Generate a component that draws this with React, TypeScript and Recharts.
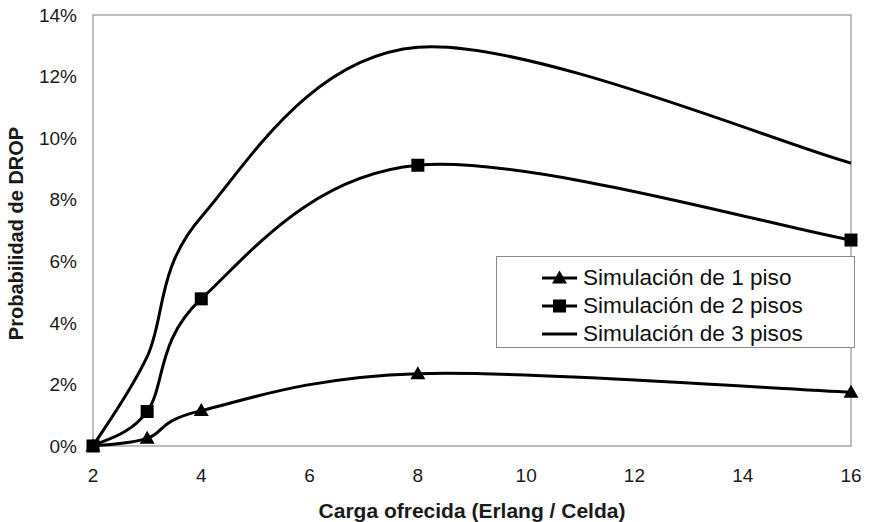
import React from 'react'
import { LineChart, Line, XAxis, YAxis, ReferenceArea, Legend } from 'recharts'

// valores
const carga = [2, 3, 4, 8, 16]
const piso1 = [0, 0.0025, 0.0115, 0.0235, 0.0175]
const piso2 = [0, 0.0112, 0.0478, 0.0912, 0.0669]
const piso3 = [0, 0.029, 0.0744, 0.1295, 0.0919]
const xTicks = [2, 4, 6, 8, 10, 12, 14, 16]
const yTicks = [0, 0.02, 0.04, 0.06, 0.08, 0.1, 0.12, 0.14]

const series = [
  { key: 'p1', name: 'Simulación de 1 piso', marker: 'triangle' },
  { key: 'p2', name: 'Simulación de 2 pisos', marker: 'square' },
  { key: 'p3', name: 'Simulación de 3 pisos', marker: 'none' }
]

const data = carga.map((c, i) => ({ carga: c, p1: piso1[i], p2: piso2[i], p3: piso3[i] }))

const FONT = '"Liberation Sans", Arial, sans-serif'

// curva suavizada tipo Excel (Catmull-Rom)
function excelCurve(context: any) {
  let pts: number[][] = []
  return {
    areaStart() {},
    areaEnd() {},
    lineStart() {
      pts = []
    },
    point(x: number, y: number) {
      pts.push([+x, +y])
    },
    lineEnd() {
      const n = pts.length
      if (!n) return
      context.moveTo(pts[0][0], pts[0][1])
      if (n === 2) {
        context.lineTo(pts[1][0], pts[1][1])
        return
      }
      for (let i = 0; i < n - 1; i++) {
        const p0 = pts[Math.max(i - 1, 0)]
        const p1 = pts[i]
        const p2 = pts[i + 1]
        const p3 = pts[Math.min(i + 2, n - 1)]
        context.bezierCurveTo(
          p1[0] + (p2[0] - p0[0]) / 6,
          p1[1] + (p2[1] - p0[1]) / 6,
          p2[0] - (p3[0] - p1[0]) / 6,
          p2[1] - (p3[1] - p1[1]) / 6,
          p2[0],
          p2[1]
        )
      }
    }
  }
}

function Marker({ cx, cy, type }: { cx: number; cy: number; type: string }) {
  if (type === 'triangle')
    return <path d={`M${cx},${cy - 7.5}L${cx + 7.5},${cy + 5.5}L${cx - 7.5},${cy + 5.5}Z`} fill="#000" />
  if (type === 'square') return <rect x={cx - 6.5} y={cy - 6.5} width={13} height={13} fill="#000" />
  return null
}

function Leyenda({ payload }: any) {
  return (
    <div
      style={{
        border: '1px solid #8c8c8c',
        background: '#fff',
        width: 357,
        height: 83,
        paddingTop: 7,
        fontFamily: FONT,
        fontSize: 22.6,
        color: '#111'
      }}
    >
      {(payload || []).map((entry: any) => {
        const s = series.find(x => x.key === entry.dataKey)
        return (
          <div
            key={entry.value}
            style={{ display: 'flex', alignItems: 'center', height: 28, paddingLeft: 45 }}
          >
            <svg width={36} height={16}>
              <line x1={0} y1={8} x2={35} y2={8} stroke="#000" strokeWidth={3} />
              <Marker cx={17.5} cy={8} type={s ? s.marker : 'none'} />
            </svg>
            <span style={{ marginLeft: 5, lineHeight: '28px' }}>{entry.value}</span>
          </div>
        )
      })}
    </div>
  )
}

export default function App() {
  return (
    <div style={{ position: 'absolute', left: 0, top: 0, background: '#fff' }}>
      <LineChart
        width={869}
        height={522}
        data={data}
        margin={{ top: 15, right: 18, left: 0, bottom: 0 }}
      >
        <ReferenceArea
          x1={2}
          x2={16}
          y1={0}
          y2={0.14}
          fill="none"
          stroke="#a8a8a8"
          strokeWidth={1.5}
          ifOverflow="visible"
        />
        <XAxis
          dataKey="carga"
          type="number"
          domain={[2, 16]}
          ticks={xTicks}
          axisLine={false}
          tickLine={false}
          tickSize={0}
          tickMargin={23}
          height={76}
          tick={{ fill: '#1a1a1a', fontSize: 19, fontFamily: FONT }}
          label={{
            value: 'Carga ofrecida (Erlang / Celda)',
            position: 'insideBottom',
            offset: 4,
            style: { fontFamily: FONT, fontSize: 21, fontWeight: 'bold', fill: '#1a1a1a' }
          }}
        />
        <YAxis
          type="number"
          domain={[0, 0.14]}
          ticks={yTicks}
          axisLine={false}
          tickLine={false}
          tickSize={0}
          tickMargin={16}
          width={93}
          tickFormatter={(v: number) => `${Math.round(v * 100)}%`}
          tick={{ fill: '#1a1a1a', fontSize: 19, fontFamily: FONT }}
          label={{
            value: 'Probabilidad de DROP',
            angle: -90,
            position: 'insideLeft',
            offset: 16,
            dy: 3,
            style: {
              fontFamily: FONT,
              fontSize: 20,
              fontWeight: 'bold',
              fill: '#1a1a1a',
              textAnchor: 'middle'
            }
          }}
        />
        {series.map(s => (
          <Line
            key={s.key}
            dataKey={s.key}
            name={s.name}
            type={excelCurve as any}
            stroke="#000"
            strokeWidth={3}
            isAnimationActive={false}
            activeDot={false}
            dot={(p: any) => <Marker key={`${s.key}-${p.index}`} cx={p.cx} cy={p.cy} type={s.marker} />}
          />
        ))}
        <Legend
          layout="vertical"
          align="center"
          verticalAlign="middle"
          content={(props: any) => <Leyenda payload={props.payload} />}
          wrapperStyle={{ position: 'absolute', left: 496, top: 256, width: 359 }}
        />
      </LineChart>
    </div>
  )
}
